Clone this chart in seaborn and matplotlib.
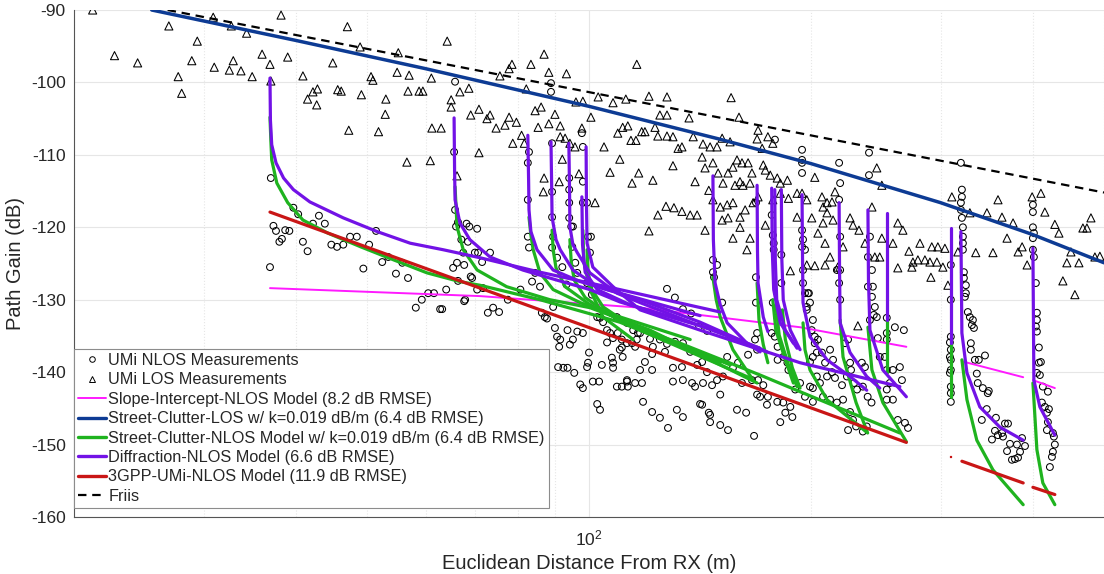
import matplotlib
matplotlib.use("Agg")
import matplotlib.pyplot as plt
import seaborn as sns
from matplotlib.lines import Line2D
from matplotlib.ticker import LogLocator, NullFormatter, FixedLocator

sns.set_theme(style="white")
plt.rcParams['font.family'] = ['Liberation Sans', 'DejaVu Sans']
plt.rcParams['axes.unicode_minus'] = False

# ---------------- measurement data (distance m, path gain dB) ----------------
los_distance = [
    21.2, 22.7, 24.4, 26.9, 27.7, 28.0, 28.9, 29.4, 30.9, 31.0, 32.5, 32.9, 32.7, 33.7, 34.3, 34.9,
    36.0, 36.9, 37.0, 38.2, 39.0, 40.9, 41.5, 42.2, 42.7, 42.8, 44.9, 45.6, 46.1, 47.0, 47.2, 48.9,
    49.1, 50.6, 50.9, 51.8, 52.9, 53.0, 54.9, 55.1, 66.2, 57.0, 56.8, 58.8, 59.5, 61.1, 61.2, 63.0,
    56.6, 60.9, 64.2, 65.0, 65.0, 66.8, 68.7, 69.1, 70.9, 70.9, 72.7, 73.4, 74.8, 75.7, 76.9, 77.9,
    78.6, 77.9, 79.7, 78.8, 81.0, 81.7, 82.2, 83.4, 85.3, 84.5, 86.1, 86.9, 86.7, 86.9, 88.2, 88.2,
    89.9, 91.4, 93.2, 92.0, 91.1, 91.4, 92.8, 94.2, 95.7, 96.9, 96.0, 97.8, 98.1, 100.6, 101.9, 102.9,
    104.8, 106.8, 107.8, 109.4, 110.1, 111.1, 112.2, 112.9, 114.0, 114.4, 115.8, 116.1, 116.8, 117.9,
    119.1, 120.6, 120.6, 122.1, 122.9, 124.0, 124.8, 124.0, 127.6, 127.2, 127.6, 127.6, 130.0, 130.4,
    130.0, 132.1, 133.7, 133.7, 136.7, 137.2, 138.5, 139.3, 140.2,
    155.9, 159.8, 142.8, 146.0, 149.2, 151.6, 155.4, 142.4, 143.7, 147.3, 145.4, 149.7, 152.0, 154.4,
    156.8, 158.8, 161.3, 164.4, 157.8, 160.3, 161.8, 165.4, 166.4, 147.3, 150.7, 154.0, 156.8, 160.3,
    162.9, 151.6, 154.4, 160.3, 143.7, 156.8, 165.4, 163.8, 169.6, 169.1, 174.9, 177.6, 171.8, 172.4,
    173.5, 176.2, 180.1, 181.8, 185.9, 169.6, 167.0, 173.5, 177.6, 181.8, 186.5, 191.6, 194.6, 197.5,
    191.6, 200.6, 202.5, 207.1, 210.4, 213.7, 215.7, 207.8, 210.4, 214.4, 204.5, 207.8, 212.4, 209.1,
    187.6, 197.5, 202.5, 209.1, 217.6, 221.2, 226.1, 228.2, 232.5, 236.9, 242.1, 245.8, 249.7, 244.3,
    248.1, 249.7, 258.5, 262.5, 262.5, 266.7, 271.8, 274.3, 281.3, 275.2, 279.5, 285.7, 290.2, 296.6,
    291.9, 297.5, 304.1, 291.1, 302.2, 307.0, 310.8, 316.7, 328.8, 334.9, 346.8, 353.4, 359.0, 363.5,
    369.3, 376.3, 382.3, 387.1, 393.2, 399.4, 410.5, 415.6, 428.8, 434.3, 439.7, 445.2, 450.9, 456.5,
    462.3, 468.1, 474.0, 480.0, 486.0, 493.6, 231.7,
]
los_gain = [
    -90.0, -96.3, -97.3, -92.2, -99.2, -101.5, -97.0, -94.3, -91.0, -97.9, -98.3, -97.0, -92.2, -98.4, -93.2, -99.2,
    -96.1, -97.5, -99.8, -90.7, -96.5, -99.1, -102.3, -101.3, -103.1, -100.9, -97.3, -101.0, -101.2, -92.3, -106.6, -95.1,
    -101.7, -99.2, -99.7, -106.8, -104.4, -102.3, -98.6, -95.9, -112.9, -99.0, -101.2, -101.2, -101.2, -99.4, -106.3, -106.3,
    -111.0, -110.8, -94.3, -102.4, -103.4, -101.3, -100.8, -104.5, -103.7, -109.7, -105.0, -104.5, -106.3, -99.1, -105.9, -98.1,
    -97.5, -104.8, -105.5, -108.4, -107.3, -108.4, -100.9, -97.5, -106.2, -103.9, -103.4, -96.1, -115.1, -113.2, -98.6, -105.7,
    -104.4, -106.0, -98.8, -110.6, -113.7, -107.5, -107.7, -108.4, -108.9, -112.6, -102.7, -106.3, -102.6, -104.8, -116.6, -102.0,
    -108.9, -112.4, -102.8, -107.0, -110.6, -106.2, -102.3, -106.0, -108.0, -113.9, -108.0, -97.5, -112.5, -106.8,
    -106.8, -101.9, -120.5, -113.5, -106.2, -107.4, -104.5, -118.3, -102.0, -117.1, -104.5, -107.4, -107.5, -117.3,
    -111.5, -109.1, -108.9, -117.8, -104.9, -118.3, -107.5, -113.7, -118.3,
    -102.1, -104.8, -108.5, -108.9, -108.9, -107.7, -108.2, -110.3, -111.8, -111.1, -114.9, -112.5, -113.9, -112.5,
    -111.7, -110.7, -111.1, -111.1, -114.2, -113.7, -114.2, -113.9, -112.5, -116.2, -117.2, -116.9, -116.6, -118.6,
    -117.6, -119.0, -118.7, -120.0, -120.4, -121.5, -121.5, -123.1, -106.6, -107.8, -107.5, -108.4, -109.1, -111.4,
    -112.1, -112.8, -113.2, -113.9, -113.5, -115.8, -116.6, -119.7, -116.2, -115.3, -116.0, -115.3, -115.3, -116.2,
    -118.6, -118.7, -113.1, -115.8, -116.6, -116.5, -115.1, -117.2, -118.0, -119.0, -120.8, -119.4, -124.1, -122.2,
    -126.0, -125.2, -125.3, -125.2, -125.5, -122.7, -118.7, -119.7, -120.4, -122.2, -117.2, -111.8, -114.2, -124.1,
    -124.1, -121.5, -122.2, -119.4, -125.6, -120.4, -123.3, -125.5, -122.2, -124.8, -124.5, -124.5, -124.8, -124.8,
    -122.7, -122.7, -122.9, -126.9, -125.5, -128.0, -115.8, -123.4, -118.0, -123.5, -118.0, -123.5, -116.2, -118.6,
    -121.5, -119.4, -123.4, -122.7, -125.2, -115.8, -115.3, -117.9, -119.6, -120.8, -127.4, -124.9, -123.4, -129.3,
    -124.9, -120.1, -120.1, -118.7, -124.1, -124.0, -133.6,
]

nlos_distance = [
    37.0, 37.3, 37.6, 38.0, 38.3, 38.7, 39.2, 39.7, 40.3, 40.9, 41.5, 42.2, 43.0, 43.8, 44.7, 45.5,
    46.4, 47.4, 48.4, 50.3, 51.4, 52.4, 53.4, 49.4, 36.9, 54.7, 56.8, 55.8, 58.2, 59.3, 60.5, 61.6,
    62.8, 64.0,
    65.8, 65.6, 65.8, 66.4, 67.1, 67.5, 67.7, 68.2, 68.8, 68.5, 70.5, 70.7, 66.0, 66.2, 65.4, 70.0,
    71.6, 73.4, 69.4, 70.5, 67.9, 63.2, 72.9, 74.1, 75.5, 71.8, 80.7, 77.6, 69.1, 66.4, 67.7,
    82.6, 82.6, 82.9, 83.7, 84.5, 85.8, 86.3, 87.1, 87.7, 89.4, 89.9, 90.5, 91.4, 91.1, 93.5, 94.2,
    95.1, 96.4, 98.1, 90.8, 92.3, 93.5, 95.5, 97.3, 98.1, 99.4, 99.7, 100.0, 101.2, 103.2, 104.1, 105.8,
    107.4, 107.8, 107.8, 109.1, 110.8, 112.6, 110.8, 109.4, 110.8, 114.4, 102.6, 103.5, 89.1, 89.1, 89.4, 89.1,
    90.5, 92.0, 93.2, 94.0, 94.0, 94.6, 95.1, 94.9, 95.8, 96.4, 98.1, 98.1, 98.1, 99.4, 99.7, 100.6,
    100.3, 99.4, 100.9, 102.6, 103.5, 104.5, 105.8, 106.8, 107.8, 109.1, 112.6, 116.1, 117.3, 88.8, 88.8, 97.8,
    82.6, 82.9, 89.1, 94.0, 94.0,
    127.6, 130.8, 134.1, 137.6, 144.6, 141.1, 110.1, 111.1, 112.6, 114.8, 116.5, 115.5, 121.0, 122.1, 124.8, 127.6,
    121.8, 119.1, 117.3, 112.6, 115.5, 112.9, 118.0, 121.8, 126.8, 130.8, 134.1, 137.2, 130.0, 133.7, 130.0, 134.1,
    138.0, 140.2, 142.4, 144.6, 142.8, 139.3, 146.9, 149.2, 150.7, 152.0, 156.8, 159.3, 154.0, 164.4, 161.3, 166.4,
    169.6, 172.4, 170.7, 174.4, 169.1, 174.9, 180.1, 183.5, 187.6, 184.7, 188.8, 181.8, 190.5, 193.4, 196.4, 199.5,
    201.3, 203.8, 118.4, 121.8, 124.8, 128.0, 131.6, 134.1, 142.4, 146.0, 146.0, 150.7, 154.4, 158.8, 163.4, 167.5,
    147.3, 147.3, 147.8, 149.2, 151.6, 168.5, 168.5, 168.5, 169.1, 168.0, 169.1, 177.6, 177.0, 178.1, 178.1, 182.4,
    182.4, 177.6, 180.1, 177.0, 178.7, 180.3, 183.5, 185.9, 186.5, 180.3, 194.6, 194.6, 195.2, 196.4, 197.5, 198.8,
    201.3, 202.5, 194.6, 194.6, 141.5, 145.4,
    219.2, 218.5, 239.9, 195.2, 196.4, 195.2, 198.2, 199.5, 197.5, 200.6, 202.5, 203.8, 201.3, 199.5, 207.1, 209.1,
    212.4, 214.4, 204.5, 213.7, 215.7, 210.4, 205.8, 201.3, 207.8, 212.4, 217.0, 221.2, 220.5, 223.9, 226.1, 222.6,
    224.7, 226.8, 229.0, 231.1, 234.6, 236.9, 235.3, 238.9, 241.8, 226.1, 228.2, 224.7, 230.4, 235.3, 238.2, 246.6,
    248.1, 252.0, 253.6, 258.5, 256.0, 253.6, 253.6, 258.5, 264.2, 265.9, 260.1, 267.5, 262.5, 268.4, 271.0, 219.2,
    219.2, 218.5, 219.2, 217.0, 240.6, 239.1, 242.1, 242.8, 242.1, 244.3, 243.5, 240.6, 239.1, 245.8, 253.6, 253.6,
    253.6, 309.8, 309.8, 309.8, 309.8, 309.8, 309.8, 309.8, 309.8, 309.8, 308.9, 308.9, 308.9,
    319.7, 319.7, 320.7, 321.7, 321.7, 321.7, 322.7, 322.7, 324.7, 323.7, 326.7, 328.8, 331.9, 330.9, 333.0, 329.8,
    329.8, 334.0, 338.1, 344.7, 336.0, 337.0, 342.4, 348.8, 347.7, 346.6, 341.3, 356.7, 355.6, 358.9, 352.3, 363.5,
    366.9, 370.4, 364.6, 372.7, 380.9, 387.0, 390.6, 369.3, 384.6, 375.0, 378.5, 382.2, 400.4, 400.4, 400.4, 401.6,
    401.6, 404.1, 405.4, 405.4, 404.1, 405.4, 407.9, 407.9, 410.5, 405.4, 409.2, 413.0, 419.6, 411.8, 415.6, 420.9,
    418.3, 419.6, 418.3, 426.2, 427.5, 428.8, 426.2, 424.9, 422.2,
    178.8, 194.6, 194.6, 218.5, 239.9, 319.7, 320.7, 320.7, 400.4, 400.4, 321.7, 324.7,
]
nlos_gain = [
    -113.2, -119.8, -120.5, -122.0, -121.6, -120.4, -120.5, -117.3, -118.2, -122.0, -123.3, -119.5, -118.4, -119.5, -122.4, -122.7,
    -122.4, -121.3, -121.3, -122.4, -120.5, -124.8, -124.1, -125.7, -125.5, -126.4, -127.0, -124.9, -131.1, -130.0, -129.1, -129.1,
    -131.3, -128.6,
    -99.9, -109.6, -117.6, -119.3, -121.7, -123.5, -125.2, -119.5, -119.9, -122.0, -120.2, -123.5, -119.9, -124.9, -125.6, -123.5,
    -124.8, -123.5, -127.0, -128.6, -130.0, -131.3, -131.8, -131.1, -131.7, -128.4, -128.6, -130.0, -126.8, -127.4, -130.2,
    -116.2, -121.3, -122.8, -127.5, -126.3, -128.2, -131.8, -132.4, -132.6, -131.0, -133.9, -135.1, -135.5, -136.5, -134.2, -136.2,
    -135.5, -134.4, -134.6, -139.3, -139.4, -139.4, -140.1, -141.7, -142.2, -139.3, -138.7, -137.3, -141.3, -141.3, -139.0, -135.9,
    -138.0, -138.7, -139.4, -142.0, -142.0, -141.3, -136.6, -134.6, -135.5, -136.0, -144.4, -145.2, -115.1, -118.6, -121.3, -122.8,
    -124.2, -125.5, -127.9, -116.6, -118.7, -119.9, -119.9, -122.7, -124.9, -126.3, -108.9, -113.7, -116.6, -116.6, -121.3, -121.3,
    -123.5, -127.7, -129.3, -132.4, -132.5, -133.1, -134.2, -134.6, -135.3, -132.4, -133.2, -135.5, -134.6, -100.1, -101.3, -107.0,
    -111.1, -109.6, -108.4, -113.2, -114.8,
    -128.5, -129.7, -131.3, -131.9, -134.3, -133.7, -136.9, -137.9, -136.0, -134.2, -134.6, -136.5, -135.4, -136.5, -135.5, -136.1,
    -137.5, -138.6, -139.7, -141.1, -141.5, -142.0, -141.5, -139.7, -137.2, -135.8, -136.0, -137.2, -139.4, -139.3, -141.3, -141.1,
    -141.5, -139.0, -138.6, -140.0, -141.5, -142.0, -141.8, -141.1, -143.1, -140.6, -139.4, -138.7, -137.9, -137.6, -141.5, -141.1,
    -141.1, -141.8, -143.4, -144.5, -143.1, -143.4, -144.1, -144.2, -144.8, -145.6, -146.2, -146.9, -142.4, -141.5, -143.4, -142.0,
    -144.1, -140.6, -144.1, -145.5, -146.3, -147.7, -145.2, -146.2, -144.5, -145.9, -146.9, -147.3, -148.0, -145.2, -145.6, -148.8,
    -124.5, -126.2, -126.9, -125.2, -130.4, -116.6, -126.9, -130.4, -134.6, -135.5, -136.9, -121.1, -118.3, -122.2, -123.1, -123.8,
    -127.7, -130.4, -132.4, -134.6, -135.1, -136.5, -137.9, -138.7, -139.7, -138.3, -120.4, -122.7, -127.7, -129.1, -131.0, -129.1,
    -132.8, -135.1, -111.1, -112.5, -144.4, -145.6,
    -113.9, -116.2, -112.8, -121.7, -123.1, -125.9, -129.1, -130.4, -131.4, -134.2, -136.0, -137.3, -137.9, -138.6, -137.3, -138.7,
    -136.9, -138.3, -135.5, -140.0, -140.8, -140.6, -141.5, -142.2, -143.4, -143.8, -144.2, -143.8, -141.8, -140.6, -138.7, -136.0,
    -135.5, -139.7, -141.5, -142.4, -138.7, -139.3, -142.0, -143.4, -144.2, -145.5, -146.6, -148.0, -147.5, -148.2, -147.5, -135.3,
    -137.9, -137.9, -139.7, -139.7, -141.5, -142.4, -143.8, -143.8, -139.3, -141.1, -133.8, -134.2, -146.6, -147.0, -147.7, -121.3,
    -125.9, -127.7, -130.0, -125.9, -121.3, -124.1, -125.9, -128.2, -129.6, -131.0, -132.1, -132.8, -128.2, -132.4, -132.5, -134.6,
    -135.5, -125.2, -130.0, -135.1, -136.9, -138.3, -139.7, -142.0, -142.9, -144.1, -135.9, -137.9, -140.1,
    -116.6, -117.6, -118.7, -120.0, -121.3, -122.2, -126.2, -127.0, -128.0, -129.6, -131.7, -132.4, -132.8, -133.5, -133.9, -136.0,
    -136.9, -138.3, -138.3, -137.7, -140.2, -141.5, -142.2, -142.6, -142.9, -145.1, -146.6, -146.3, -148.1, -148.7, -149.3, -148.4,
    -147.1, -147.1, -148.9, -149.9, -150.0, -149.1, -150.2, -150.9, -151.0, -152.1, -152.0, -151.8, -116.9, -117.9, -120.0, -120.8,
    -124.1, -127.7, -131.8, -132.8, -133.7, -134.4, -136.6, -138.7, -138.6, -140.1, -140.4, -142.0, -142.7, -144.2, -144.8, -145.1,
    -145.6, -146.9, -148.0, -148.4, -148.9, -150.0, -151.0, -151.7, -153.1,
    -107.9, -109.3, -110.7, -111.1, -109.7, -111.1, -114.8, -115.8, -121.5, -123.1, -123.1, -129.1,
]

# ---------------- model curves (distance m, path gain dB) ----------------
friis_distance = [26.8, 500.0]
friis_gain = [-90.0, -115.2]

street_clutter_los_distance = [25.5, 40, 60, 100, 150, 200, 300, 400, 500]
street_clutter_los_gain = [-90.0, -94.2, -98.1, -103.3, -107.8, -111.2, -116.6, -121.0, -124.9]

slope_intercept_segments = [
    ([36.9, 71.1, 117.3, 193.4, 269.6], [-128.4, -129.5, -131.1, -133.8, -136.5]),
    ([320.7, 388.4], [-138.5, -140.7]),
    ([400.4, 428.8], [-141.1, -142.2]),
]
gpp_segments = [
    ([36.9, 269.6], [-117.9, -149.7]),
    ([320.7, 388.4], [-152.3, -155.3]),
    ([400.4, 428.8], [-155.9, -156.9]),
]
gpp_dot_distance = [309.8]
gpp_dot_gain = [-151.7]

diffraction_curves = [
    ([36.9, 36.95, 37.1, 37.6, 38.5, 39.7, 41.8, 46.4, 51.6, 57.2, 63.4, 71.1, 85.8, 110.1, 150.7],
     [-99.4, -105.2, -108.6, -111.1, -113.2, -114.8, -116.5, -118.7, -120.6, -122.2, -123.1, -124.2, -126.2, -128.6, -131.7]),
    ([65.6, 65.7, 65.8, 66.8, 68.9, 73.4, 81.3, 90.5, 100.3, 110.1, 149.2],
     [-104.9, -112.1, -116.2, -119.4, -121.7, -124.1, -125.9, -127.3, -128.6, -130.3, -134.3]),
    ([82.6, 82.8, 82.9, 83.4, 85.0, 89.4, 97.3, 105.8, 141.5],
     [-107.3, -113.5, -117.6, -120.6, -123.1, -125.9, -127.5, -128.6, -132.2]),
    ([88.8, 89.0, 89.1, 90.2, 91.4, 95.1, 102.6, 117.3, 141.5, 174.4],
     [-108.2, -114.8, -118.6, -121.7, -123.1, -125.9, -128.2, -130.0, -133.1, -137.2]),
    ([93.9, 94.1, 94.2, 95.1, 96.4, 100.3, 109.1, 117.3, 141.5, 170.7],
     [-108.4, -114.8, -119.9, -122.4, -123.5, -126.3, -129.1, -130.4, -133.6, -136.7]),
    ([99.1, 99.2, 99.4, 101.2, 107.8, 117.3, 141.5, 170.7, 193.4, 264.2],
     [-108.9, -116.2, -122.2, -125.5, -128.2, -131.4, -134.2, -136.9, -138.7, -142.0]),
    ([97.8, 98.0, 98.8, 102.6, 113.7, 136.7],
     [-115.8, -122.4, -126.2, -128.6, -130.7, -133.1]),
    ([147.3, 147.5, 148.3, 150.7, 154.0, 163.8, 170.7],
     [-112.9, -121.7, -127.7, -130.7, -133.2, -136.0, -137.2]),
    ([169.1, 169.3, 169.6, 172.4, 174.9], [-114.2, -123.1, -127.7, -132.4, -134.4]),
    ([177.0, 177.3, 178.1, 181.8, 189.4], [-114.6, -123.1, -128.6, -133.2, -136.0]),
    ([178.7, 179.0, 179.8, 184.7, 191.6], [-114.8, -124.5, -130.0, -134.2, -136.7]),
    ([182.4, 182.7, 183.5, 187.6, 193.4], [-114.8, -124.5, -130.0, -134.2, -136.9]),
    ([194.6, 194.9, 195.2, 199.5, 210.4, 226.1, 238.2],
     [-115.5, -124.5, -130.4, -135.1, -138.3, -140.6, -142.5]),
    ([218.5, 218.8, 219.2, 226.1, 238.2, 248.1], [-116.6, -125.9, -133.2, -137.3, -140.6, -142.2]),
    ([239.1, 239.5, 240.6, 250.5, 269.6], [-117.6, -127.3, -134.2, -139.7, -143.4]),
    ([253.6, 253.6], [-118.0, -132.8]),
    ([309.8, 309.8], [-120.1, -136.0]),
    ([319.7, 320.7, 325.8, 339.2, 361.2, 388.4], [-120.6, -134.6, -140.1, -144.8, -147.6, -149.4]),
    ([400.4, 401.6, 409.2, 428.8], [-122.9, -141.1, -144.8, -148.7]),
]

street_clutter_nlos_curves = [
    ([36.9, 37.0, 37.1, 37.7, 39.0, 40.9, 44.2, 49.0, 54.3, 60.3, 66.8, 71.1, 85.8, 110.1, 150.7],
     [-104.8, -108.0, -110.7, -113.9, -116.6, -119.0, -120.8, -122.7, -124.5, -126.3, -127.5, -128.0, -130.0, -133.1, -138.7]),
    ([65.8, 66.2, 67.5, 70.5, 77.3, 88.5, 100.3, 121.0, 169.1],
     [-114.4, -119.9, -123.1, -125.9, -128.2, -130.0, -131.1, -134.2, -141.5]),
    ([82.9, 83.4, 84.0, 85.8, 89.4, 97.3, 105.8, 137.2],
     [-118.6, -121.1, -123.1, -126.3, -128.6, -130.4, -131.8, -135.5]),
    ([89.1, 89.4, 90.2, 92.8, 100.3, 110.1, 155.4],
     [-120.4, -123.1, -125.6, -128.2, -130.7, -132.8, -139.0]),
    ([94.2, 94.6, 95.5, 98.8, 106.8, 117.3, 165.4],
     [-121.7, -124.8, -127.3, -129.7, -132.1, -134.2, -140.8]),
    ([99.4, 99.7, 100.9, 104.5, 113.7, 132.9, 170.7, 193.4, 264.2],
     [-123.1, -126.2, -128.6, -131.0, -133.5, -136.0, -140.4, -142.7, -148.4]),
    ([98.1, 98.4, 100.3, 104.5, 114.8], [-120.4, -124.8, -128.6, -132.4, -135.5]),
    ([147.3, 148.8, 150.7, 156.8, 167.0], [-126.9, -130.0, -132.4, -136.9, -141.1]),
    ([169.1, 170.1, 172.4, 174.9], [-127.7, -132.8, -136.2, -138.7]),
    ([177.6, 179.3, 184.7, 189.4], [-130.0, -134.2, -138.3, -141.5]),
    ([179.3, 181.2, 186.5, 191.6], [-130.7, -134.9, -139.0, -142.0]),
    ([183.0, 184.7, 188.8, 193.4], [-131.4, -135.5, -139.4, -142.2]),
    ([195.2, 196.4, 199.5, 210.4, 238.2], [-133.2, -136.9, -139.7, -143.8, -148.3]),
    ([219.2, 221.2, 230.4, 238.9], [-132.8, -137.9, -144.2, -148.4]),
    ([239.1, 242.1, 250.5, 269.6], [-133.8, -139.7, -144.2, -149.6]),
    ([253.6, 253.6], [-132.8, -140.0]),
    ([309.8, 309.8], [-136.0, -143.4]),
    ([320.7, 325.8, 336.0, 353.4, 388.4], [-138.3, -143.8, -149.4, -153.5, -158.3]),
    ([400.4, 405.4, 413.0, 428.8], [-141.5, -150.7, -155.3, -158.3]),
]

legend_labels = [
    "UMi NLOS Measurements",
    "UMi LOS Measurements",
    "Slope-Intercept-NLOS Model (8.2 dB RMSE)",
    "Street-Clutter-LOS w/ k=0.019 dB/m (6.4 dB RMSE)",
    "Street-Clutter-NLOS Model w/ k=0.019 dB/m (6.4 dB RMSE)",
    "Diffraction-NLOS Model (6.6 dB RMSE)",
    "3GPP-UMi-NLOS Model (11.9 dB RMSE)",
    "Friis",
]
y_ticks = [-160, -150, -140, -130, -120, -110, -100, -90]

# ---------------- styling ----------------
C_MAG = '#ff1aff'
C_BLUE = '#0d3b94'
C_GREEN = '#1fb31f'
C_PURPLE = '#7212e6'
C_RED = '#c91616'
TXT = '#262626'
LW = 2.3

fig = plt.figure(figsize=(11.04, 5.74), dpi=100)
ax = fig.add_axes([74 / 1104, 57 / 574, 1030 / 1104, 507 / 574])
ax.set_xscale('log')
ax.set_xlim(20, 500)
ax.set_ylim(-160, -90)

sns.scatterplot(x=nlos_distance, y=nlos_gain, marker='o', s=24, facecolors='none',
                edgecolors='black', linewidths=0.75, ax=ax, legend=False, zorder=2)
sns.scatterplot(x=los_distance, y=los_gain, marker='^', s=34, facecolors='none',
                edgecolors='black', linewidths=0.75, ax=ax, legend=False, zorder=2)

def draw(d, g, color, lw, z, **kw):
    sns.lineplot(x=d, y=g, ax=ax, color=color, lw=lw, estimator=None, sort=False,
                 legend=False, zorder=z, **kw)

for d, g in slope_intercept_segments:
    draw(d, g, C_MAG, 1.4, 3)
for d, g in street_clutter_nlos_curves:
    draw(d, g, C_GREEN, LW, 4)
for d, g in diffraction_curves:
    draw(d, g, C_PURPLE, LW, 5)
for d, g in gpp_segments:
    draw(d, g, C_RED, LW, 6)
sns.scatterplot(x=gpp_dot_distance, y=gpp_dot_gain, marker='s', s=3, color=C_RED,
                edgecolor=C_RED, ax=ax, legend=False, zorder=6)
draw(street_clutter_los_distance, street_clutter_los_gain, C_BLUE, 2.5, 7)
draw(friis_distance, friis_gain, 'black', 1.6, 8, dashes=(3.8, 2.6))

# axes cosmetics
ax.yaxis.set_major_locator(FixedLocator(y_ticks))
ax.set_yticklabels([str(v) for v in y_ticks])
ax.xaxis.set_major_locator(LogLocator(base=10))
ax.xaxis.set_minor_locator(LogLocator(base=10, subs=[2, 3, 4, 5, 6, 7, 8, 9]))
ax.xaxis.set_minor_formatter(NullFormatter())
ax.tick_params(axis='both', which='both', direction='in', length=7, width=0.7,
               colors='#555555', labelcolor=TXT, labelsize=12.5)
ax.tick_params(axis='x', which='major', pad=8)
ax.tick_params(axis='y', which='major', pad=6)
ax.grid(True, which='major', axis='both', color='#e6e6e6', lw=0.8)
ax.grid(True, which='minor', axis='x', color='#e6e6e6', lw=0.8, ls=':')
ax.set_axisbelow(True)
for s in ['top', 'right']:
    ax.spines[s].set_visible(False)
for s in ['left', 'bottom']:
    ax.spines[s].set_color('#555555')
    ax.spines[s].set_linewidth(0.8)

ax.set_xlabel('Euclidean Distance From RX (m)', fontsize=14.5, color=TXT, labelpad=4)
ax.set_ylabel('Path Gain (dB)', fontsize=14.5, color=TXT, labelpad=4)

handles = [
    Line2D([], [], ls='none', marker='o', mfc='none', mec='black', ms=4, mew=0.7),
    Line2D([], [], ls='none', marker='^', mfc='none', mec='black', ms=4.5, mew=0.7),
    Line2D([], [], color=C_MAG, lw=1.4),
    Line2D([], [], color=C_BLUE, lw=2.4),
    Line2D([], [], color=C_GREEN, lw=2.4),
    Line2D([], [], color=C_PURPLE, lw=2.4),
    Line2D([], [], color=C_RED, lw=2.4),
    Line2D([], [], color='black', lw=1.6, ls=(0, (3.8, 2.6))),
]
leg = ax.legend(handles, legend_labels, loc='lower left', bbox_to_anchor=(0.0, 0.018),
                borderaxespad=0, fontsize=11.7, frameon=True, fancybox=False,
                edgecolor='#8c8c8c', framealpha=1, labelspacing=0.27, handlelength=1.7,
                handletextpad=0.15, borderpad=0.25)
leg.get_frame().set_linewidth(0.8)
for t in leg.get_texts():
    t.set_color(TXT)

fig.savefig('out.png', dpi=100)
